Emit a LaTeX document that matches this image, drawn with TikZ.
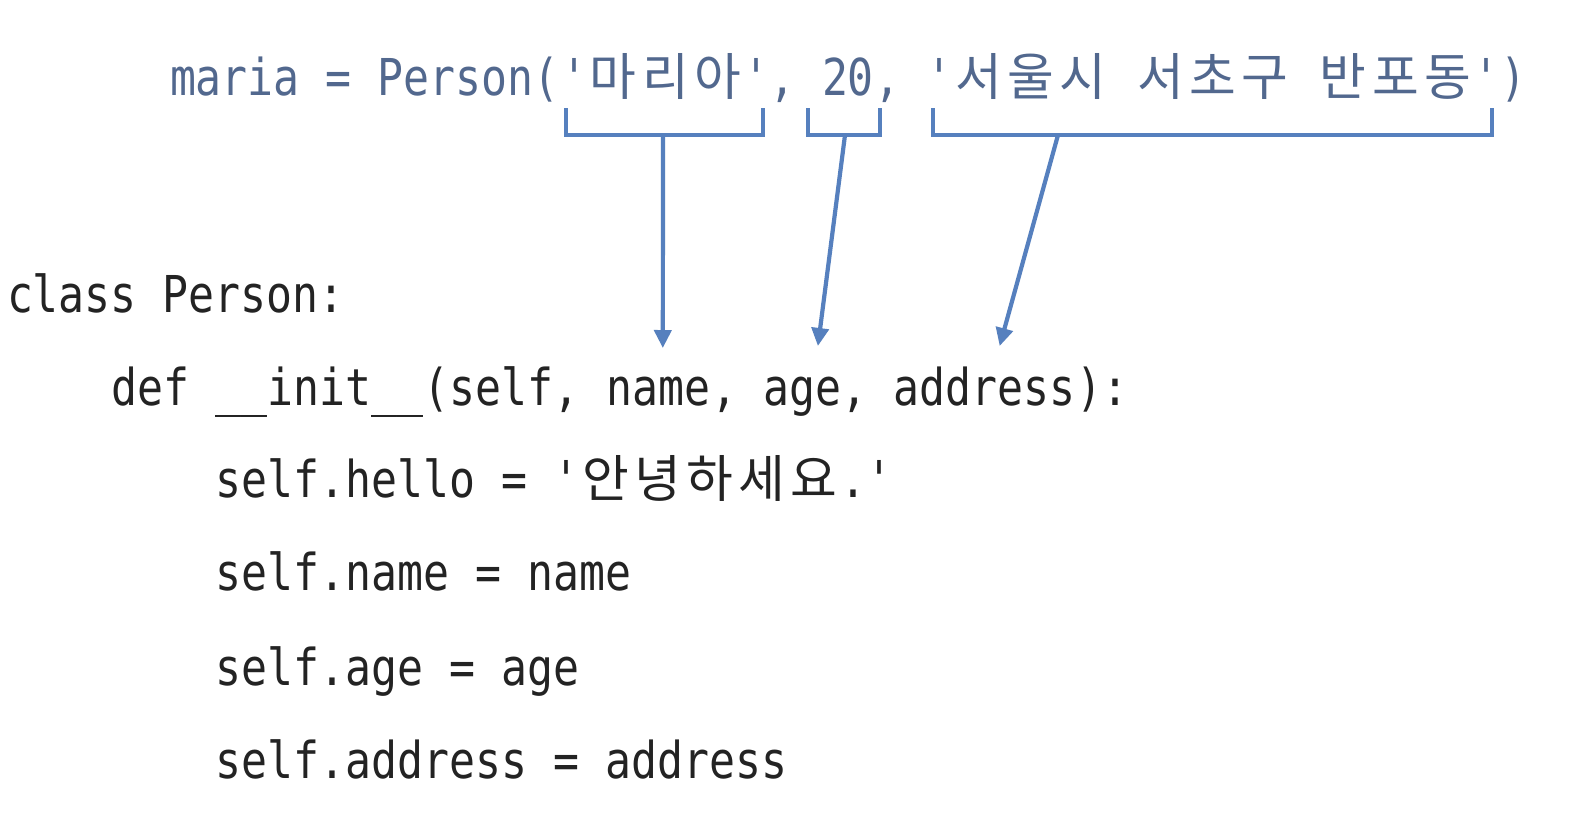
\documentclass[tikz,border=0pt]{standalone}
\usepackage{fontspec}
\newfontfamily\cf[FakeStretch=0.8494]{DejaVu Sans Mono}
\newfontfamily\kr{Noto Sans CJK KR}
\usetikzlibrary{arrows.meta,calc}
\definecolor{codeblue}{RGB}{82,104,142}
\definecolor{codeink}{RGB}{35,35,35}
\definecolor{arrowblue}{RGB}{86,128,190}
\newcommand\K[1]{\makebox[52.16bp][c]{\kr\fontsize{51}{58}\selectfont #1}}
\def\cw{26.08}
\begin{document}
\begin{tikzpicture}[x=1bp,y=-1bp]
\tikzset{
  code/.style={inner sep=0pt, outer sep=0pt, anchor=base west,
    font=\cf\fontsize{51}{60}\selectfont, text=codeink},
  call/.style={code, text=codeblue},
  brk/.style={draw=arrowblue, line width=4.4bp, line join=miter},
  conn/.style={draw=arrowblue, line width=4.2bp, -{Triangle[length=18bp,width=17bp]}},
}
\useasboundingbox[fill=white] (0,0) rectangle (1570,828);
% line 1: the call
\node[call] (p0) at ({170+0*\cw},95) {maria = Person(};
\node[call] (a1) at ({170+15*\cw},95) {'\K{마}\K{리}\K{아}'};
\node[call] (p1) at ({170+23*\cw},95) {,};
\node[call] (a2) at ({170+25*\cw},95) {20};
\node[call] (p2) at ({170+27*\cw},95) {,};
\node[call] (a3) at ({170+29*\cw},95) {'\K{서}\K{울}\K{시} \K{서}\K{초}\K{구} \K{반}\K{포}\K{동}'};
\node[call] (p3) at ({170+51*\cw},95) {)};
% class definition
\node[code] (cls) at ({7+0*\cw},312) {class Person:};
\node[code] (d0) at ({7+4*\cw},405) {def \_\_init\_\_(self,};
\node[code] (nm) at ({7+23*\cw},405) {name};
\node[code] (d1) at ({7+27*\cw},405) {,};
\node[code] (ag) at ({7+29*\cw},405) {age};
\node[code] (d2) at ({7+32*\cw},405) {,};
\node[code] (ad) at ({7+34*\cw},405) {address};
\node[code] (d3) at ({7+41*\cw},405) {):};
\node[code] (s1) at ({7+8*\cw},497) {self.hello = '\K{안}\K{녕}\K{하}\K{세}\K{요}.'};
\node[code] (s2) at ({7+8*\cw},590) {self.name = name};
\node[code] (s3) at ({7+8*\cw},685) {self.age = age};
\node[code] (s4) at ({7+8*\cw},778) {self.address = address};
% brackets
\draw[brk] ([shift={(4.8,13)}]a1.base west) -- ([shift={(4.8,40)}]a1.base west)
  -- ([shift={(-6.8,40)}]a1.base east) -- ([shift={(-6.8,13)}]a1.base east);
\draw[brk] ([shift={(-14,13)}]a2.base west) -- ([shift={(-14,40)}]a2.base west)
  -- ([shift={(5.8,40)}]a2.base east) -- ([shift={(5.8,13)}]a2.base east);
\draw[brk] ([shift={(6.7,13)}]a3.base west) -- ([shift={(6.7,40)}]a3.base west)
  -- ([shift={(-8,40)}]a3.base east) -- ([shift={(-8,13)}]a3.base east);
\coordinate (c1) at (663,135);
\coordinate (c2) at (845,135);
\coordinate (c3) at (1058,135);
% arrows
\draw[conn] (c1) -- ([shift={(4,-57)}]nm.base);
\draw[conn] (c2) -- ([shift={(15.6,-59)}]ag.base);
\draw[conn] (c3) -- ([shift={(15,-59)}]ad.base);
\end{tikzpicture}
\end{document}
